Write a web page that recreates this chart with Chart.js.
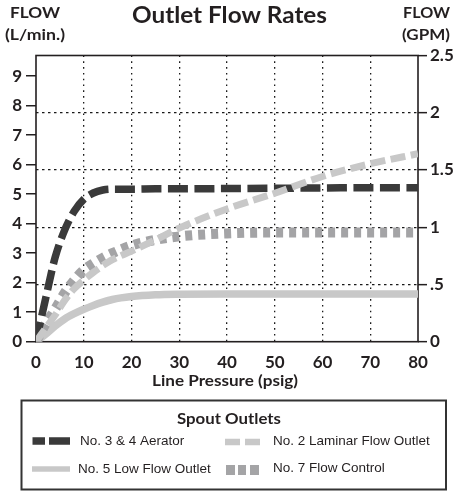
<!DOCTYPE html>
<html><head><meta charset="utf-8">
<script src="https://cdn.jsdelivr.net/npm/chart.js@4.4.1/dist/chart.umd.min.js"></script>
<style>html,body{margin:0;padding:0;background:#fff;overflow:hidden}canvas{display:block}</style>
</head><body>
<canvas id="c" width="457" height="493" style="width:457px;height:493px"></canvas>
<script>
// ---- data ----
const pressure    = [0, 2, 4, 6, 8, 10, 12, 14, 16, 20, 25, 30, 40, 50, 60, 70, 80];
const aerator     = [0, 1.45, 2.85, 3.78, 4.42, 4.83, 5.04, 5.14, 5.17, 5.17, 5.18, 5.18, 5.19, 5.2, 5.21, 5.22, 5.22];
const laminar     = [0, 0.45, 0.9, 1.4, 1.8, 2.09, 2.35, 2.58, 2.78, 3.07, 3.45, 3.85, 4.5, 5.03, 5.6, 6.03, 6.37];
const lowFlow     = [0, 0.25, 0.53, 0.77, 0.95, 1.1, 1.23, 1.34, 1.43, 1.53, 1.59, 1.61, 1.62, 1.62, 1.62, 1.62, 1.62];
const flowControl = [0, 0.6, 1.1, 1.65, 2.08, 2.43, 2.65, 2.84, 3.0, 3.26, 3.45, 3.57, 3.67, 3.7, 3.7, 3.7, 3.7];
const seriesLabels = ['No. 3 & 4 Aerator', 'No. 2 Laminar Flow Outlet', 'No. 5 Low Flow Outlet', 'No. 7 Flow Control'];
const pressureTicks = [0, 10, 20, 30, 40, 50, 60, 70, 80];
const lpmTicks = [0, 1, 2, 3, 4, 5, 6, 7, 8, 9];
const gpmTicks = [0, 0.5, 1, 1.5, 2, 2.5];
const gpmTickLabels = ['0', '.5', '1', '1.5', '2', '2.5'];

const TXT = '#231f20';
const pts = arr => pressure.map((p, i) => ({x: p, y: arr[i]}));
const tickFont = {family: 'Lato', weight: 'bold', size: 17};

function fitText(ctx, text, cx, cy, font, targetW) {
  ctx.save();
  ctx.font = font;
  ctx.fillStyle = TXT;
  ctx.textAlign = 'center';
  ctx.textBaseline = 'middle';
  const w = ctx.measureText(text).width;
  ctx.translate(cx, cy);
  if (targetW) ctx.scale(targetW / w, 1);
  ctx.fillText(text, 0, 0);
  ctx.restore();
}

const framePlugin = {
  id: 'frame',
  beforeDatasetsDraw(chart) {
    const {ctx, chartArea: a} = chart;
    ctx.save();
    ctx.strokeStyle = TXT;
    ctx.lineWidth = 1.6;
    ctx.strokeRect(a.left, a.top, a.right - a.left, a.bottom - a.top);
    ctx.restore();
  }
};

const legendLayout = [
  {sx: 32.5, ex: 70, y: 441, w: 7.5, dash: [12.5, 4, 21, 100], tx: 80, ty: 441.5},
  {sx: 225, ex: 260, y: 442, w: 6.5, dash: [15, 5, 15, 100], tx: 273, ty: 441.5},
  {sx: 32, ex: 70, y: 469, w: 5.5, dash: [], tx: 78, ty: 469},
  {sx: 226, ex: 259.5, y: 470, w: 10, dash: [9, 3, 8, 4, 9, 100], tx: 273, ty: 468.5}
];

const textPlugin = {
  id: 'texts',
  afterDraw(chart) {
    const ctx = chart.ctx;
    const a = chart.chartArea;
    fitText(ctx, 'FLOW', 35, 13.5, 'bold 15px Lato', 50);
    fitText(ctx, '(L/min.)', 35, 35.5, 'bold 15px Lato', 60);
    fitText(ctx, 'FLOW', 426.5, 13.5, 'bold 15px Lato', 47);
    fitText(ctx, '(GPM)', 426, 35.5, 'bold 15px Lato', 48);
    fitText(ctx, 'Outlet Flow Rates', 229.5, 15.5, 'bold 22px Lato', 195);
    fitText(ctx, 'Line Pressure (psig)', (a.left + a.right) / 2 - 2, 381.5, 'bold 15px Lato', 146);

    // legend box
    ctx.save();
    ctx.strokeStyle = '#333';
    ctx.lineWidth = 2;
    ctx.strokeRect(21.5, 400.5, 424.5, 89);
    ctx.restore();
    fitText(ctx, 'Spout Outlets', 229, 418.5, 'bold 16px Lato', 104);

    chart.data.datasets.forEach((ds, i) => {
      const L = legendLayout[i];
      ctx.save();
      ctx.strokeStyle = ds.borderColor;
      ctx.lineWidth = L.w;
      ctx.lineCap = 'butt';
      ctx.setLineDash(L.dash);
      ctx.beginPath();
      ctx.moveTo(L.sx, L.y);
      ctx.lineTo(L.ex, L.y);
      ctx.stroke();
      ctx.restore();
      ctx.save();
      ctx.font = '13.5px "Liberation Sans"';
      ctx.fillStyle = TXT;
      ctx.textAlign = 'left';
      ctx.textBaseline = 'middle';
      ctx.fillText(ds.label, L.tx, L.ty);
      ctx.restore();
    });
  }
};

new Chart(document.getElementById('c'), {
  type: 'line',
  data: {
    datasets: [
      {label: seriesLabels[0], data: pts(aerator), borderColor: '#3a3a3a', borderWidth: 7.5, borderDash: [20, 6.5], order: 1},
      {label: seriesLabels[1], data: pts(laminar), borderColor: '#c8c8c8', borderWidth: 7, borderDash: [15, 5.5], order: 0},
      {label: seriesLabels[2], data: pts(lowFlow), borderColor: '#c8c8c8', borderWidth: 7.5, borderDash: [], order: 3},
      {label: seriesLabels[3], data: pts(flowControl), borderColor: '#a4a4a6', borderWidth: 10, borderDash: [7, 6], order: 2}
    ].map(d => Object.assign({pointRadius: 0, fill: false, cubicInterpolationMode: 'monotone', borderCapStyle: 'butt', yAxisID: 'y'}, d))
  },
  options: {
    responsive: false,
    animation: false,
    layout: {padding: {top: 55.5, left: 0, right: 0, bottom: 0}},
    plugins: {legend: {display: false}, tooltip: {enabled: false}, title: {display: false}},
    scales: {
      x: {
        type: 'linear', position: 'bottom', min: 0, max: 80,
        afterBuildTicks: s => { s.ticks = pressureTicks.map(v => ({value: v})); },
        afterFit: s => { s.height = 493 - 341.7; },
        grid: {
          color: c => (c.tick && (c.tick.value === 0 || c.tick.value === 80)) ? 'rgba(0,0,0,0)' : '#1a1a1a',
          lineWidth: 1.3, drawTicks: false
        },
        border: {display: false, dash: [1.6, 4.2]},
        ticks: {font: tickFont, color: TXT, padding: 11, maxRotation: 0, autoSkip: false}
      },
      y: {
        type: 'linear', position: 'left', min: 0, max: 9.7,
        afterBuildTicks: s => { s.ticks = lpmTicks.map(v => ({value: v})); },
        afterFit: s => { s.width = 36; },
        grid: {drawOnChartArea: false, drawTicks: true, tickLength: 10, color: TXT, lineWidth: 1.5},
        border: {display: false},
        ticks: {font: tickFont, color: TXT, padding: 4, autoSkip: false}
      },
      y2: {
        type: 'linear', position: 'right', min: 0, max: 2.5,
        afterBuildTicks: s => { s.ticks = gpmTicks.map(v => ({value: v})); },
        afterFit: s => { s.width = 39; },
        grid: {
          drawOnChartArea: true, drawTicks: true, tickLength: 9,
          color: c => (c.tick && (c.tick.value === 0 || c.tick.value === 2.5)) ? 'rgba(0,0,0,0)' : '#1a1a1a',
          tickColor: TXT, lineWidth: 1.3, tickWidth: 1.5
        },
        border: {display: false, dash: [2.5, 3.5]},
        ticks: {font: tickFont, color: TXT, padding: 3, autoSkip: false, callback: (v, i) => gpmTickLabels[i]}
      }
    }
  },
  plugins: [framePlugin, textPlugin]
});
</script></body></html>
